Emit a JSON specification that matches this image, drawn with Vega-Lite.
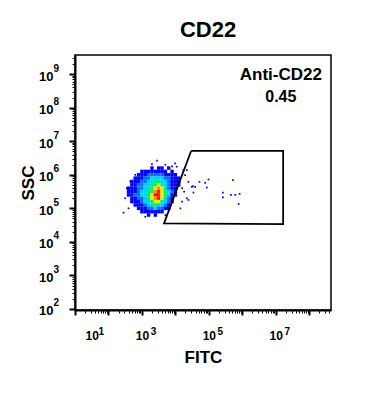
{
  "$schema": "https://vega.github.io/schema/vega-lite/v6.json",
  "autosize": {"type": "none"},
  "padding": {"left": 75, "top": 55, "right": 58, "bottom": 107},
  "width": 256,
  "height": 255,
  "title": {"text": "CD22", "font": "Liberation Sans", "fontSize": 22, "fontWeight": "bold", "color": "black", "anchor": "middle", "baseline": "alphabetic", "offset": -5, "dx": 5},
  "config": {
    "view": {"stroke": "black", "strokeWidth": 1.5},
    "font": "Liberation Sans",
    "axis": {"labelFont": "Liberation Sans", "titleFont": "Liberation Sans", "labelFontWeight": "bold", "titleFontWeight": "bold", "labelColor": "black", "titleColor": "black", "grid": false, "labelOverlap": false, "labelBound": false, "domainColor": "black", "tickColor": "black"}
  },
  "datasets": {
    "cells": [
      {"log_fitc": 3.3, "log_ssc": 6.2, "level": 1}, {"log_fitc": 3.5, "log_ssc": 6.2, "level": 1}, {"log_fitc": 3.6, "log_ssc": 6.2, "level": 1}, {"log_fitc": 3.8, "log_ssc": 6.2, "level": 1},
      {"log_fitc": 3.0, "log_ssc": 6.1, "level": 1}, {"log_fitc": 3.1, "log_ssc": 6.1, "level": 1}, {"log_fitc": 3.2, "log_ssc": 6.1, "level": 1}, {"log_fitc": 3.3, "log_ssc": 6.1, "level": 1}, {"log_fitc": 3.4, "log_ssc": 6.1, "level": 1}, {"log_fitc": 3.5, "log_ssc": 6.1, "level": 1}, {"log_fitc": 3.6, "log_ssc": 6.1, "level": 1}, {"log_fitc": 3.7, "log_ssc": 6.1, "level": 1}, {"log_fitc": 3.9, "log_ssc": 6.1, "level": 1},
      {"log_fitc": 2.9, "log_ssc": 6.0, "level": 1}, {"log_fitc": 3.0, "log_ssc": 6.0, "level": 1}, {"log_fitc": 3.1, "log_ssc": 6.0, "level": 1}, {"log_fitc": 3.2, "log_ssc": 6.0, "level": 2}, {"log_fitc": 3.3, "log_ssc": 6.0, "level": 2}, {"log_fitc": 3.4, "log_ssc": 6.0, "level": 2}, {"log_fitc": 3.5, "log_ssc": 6.0, "level": 2}, {"log_fitc": 3.6, "log_ssc": 6.0, "level": 2}, {"log_fitc": 3.7, "log_ssc": 6.0, "level": 1}, {"log_fitc": 3.8, "log_ssc": 6.0, "level": 1}, {"log_fitc": 3.9, "log_ssc": 6.0, "level": 1}, {"log_fitc": 4.0, "log_ssc": 6.0, "level": 1},
      {"log_fitc": 2.8, "log_ssc": 5.9, "level": 1}, {"log_fitc": 2.9, "log_ssc": 5.9, "level": 1}, {"log_fitc": 3.0, "log_ssc": 5.9, "level": 1}, {"log_fitc": 3.1, "log_ssc": 5.9, "level": 2}, {"log_fitc": 3.2, "log_ssc": 5.9, "level": 2}, {"log_fitc": 3.3, "log_ssc": 5.9, "level": 3}, {"log_fitc": 3.4, "log_ssc": 5.9, "level": 3}, {"log_fitc": 3.5, "log_ssc": 5.9, "level": 3}, {"log_fitc": 3.6, "log_ssc": 5.9, "level": 3}, {"log_fitc": 3.7, "log_ssc": 5.9, "level": 2}, {"log_fitc": 3.8, "log_ssc": 5.9, "level": 2}, {"log_fitc": 3.9, "log_ssc": 5.9, "level": 1}, {"log_fitc": 4.0, "log_ssc": 5.9, "level": 1}, {"log_fitc": 4.1, "log_ssc": 5.9, "level": 1},
      {"log_fitc": 2.7, "log_ssc": 5.8, "level": 1}, {"log_fitc": 2.8, "log_ssc": 5.8, "level": 1}, {"log_fitc": 2.9, "log_ssc": 5.8, "level": 1}, {"log_fitc": 3.0, "log_ssc": 5.8, "level": 2}, {"log_fitc": 3.1, "log_ssc": 5.8, "level": 2}, {"log_fitc": 3.2, "log_ssc": 5.8, "level": 3}, {"log_fitc": 3.3, "log_ssc": 5.8, "level": 3}, {"log_fitc": 3.4, "log_ssc": 5.8, "level": 4}, {"log_fitc": 3.5, "log_ssc": 5.8, "level": 4}, {"log_fitc": 3.6, "log_ssc": 5.8, "level": 3}, {"log_fitc": 3.7, "log_ssc": 5.8, "level": 3}, {"log_fitc": 3.8, "log_ssc": 5.8, "level": 2}, {"log_fitc": 3.9, "log_ssc": 5.8, "level": 1}, {"log_fitc": 4.0, "log_ssc": 5.8, "level": 1}, {"log_fitc": 4.1, "log_ssc": 5.8, "level": 1},
      {"log_fitc": 2.7, "log_ssc": 5.7, "level": 1}, {"log_fitc": 2.8, "log_ssc": 5.7, "level": 1}, {"log_fitc": 2.9, "log_ssc": 5.7, "level": 2}, {"log_fitc": 3.0, "log_ssc": 5.7, "level": 2}, {"log_fitc": 3.1, "log_ssc": 5.7, "level": 3}, {"log_fitc": 3.2, "log_ssc": 5.7, "level": 3}, {"log_fitc": 3.3, "log_ssc": 5.7, "level": 4}, {"log_fitc": 3.4, "log_ssc": 5.7, "level": 4}, {"log_fitc": 3.5, "log_ssc": 5.7, "level": 5}, {"log_fitc": 3.6, "log_ssc": 5.7, "level": 4}, {"log_fitc": 3.7, "log_ssc": 5.7, "level": 3}, {"log_fitc": 3.8, "log_ssc": 5.7, "level": 2}, {"log_fitc": 3.9, "log_ssc": 5.7, "level": 1}, {"log_fitc": 4.0, "log_ssc": 5.7, "level": 1}, {"log_fitc": 4.1, "log_ssc": 5.7, "level": 1},
      {"log_fitc": 2.6, "log_ssc": 5.6, "level": 1}, {"log_fitc": 2.7, "log_ssc": 5.6, "level": 1}, {"log_fitc": 2.8, "log_ssc": 5.6, "level": 1}, {"log_fitc": 2.9, "log_ssc": 5.6, "level": 2}, {"log_fitc": 3.0, "log_ssc": 5.6, "level": 2}, {"log_fitc": 3.1, "log_ssc": 5.6, "level": 3}, {"log_fitc": 3.2, "log_ssc": 5.6, "level": 3}, {"log_fitc": 3.3, "log_ssc": 5.6, "level": 4}, {"log_fitc": 3.4, "log_ssc": 5.6, "level": 5}, {"log_fitc": 3.5, "log_ssc": 5.6, "level": 6}, {"log_fitc": 3.6, "log_ssc": 5.6, "level": 5}, {"log_fitc": 3.7, "log_ssc": 5.6, "level": 3}, {"log_fitc": 3.8, "log_ssc": 5.6, "level": 2}, {"log_fitc": 3.9, "log_ssc": 5.6, "level": 1}, {"log_fitc": 4.0, "log_ssc": 5.6, "level": 1},
      {"log_fitc": 2.6, "log_ssc": 5.5, "level": 1}, {"log_fitc": 2.7, "log_ssc": 5.5, "level": 1}, {"log_fitc": 2.8, "log_ssc": 5.5, "level": 1}, {"log_fitc": 2.9, "log_ssc": 5.5, "level": 2}, {"log_fitc": 3.0, "log_ssc": 5.5, "level": 3}, {"log_fitc": 3.1, "log_ssc": 5.5, "level": 3}, {"log_fitc": 3.2, "log_ssc": 5.5, "level": 4}, {"log_fitc": 3.3, "log_ssc": 5.5, "level": 4}, {"log_fitc": 3.4, "log_ssc": 5.5, "level": 6}, {"log_fitc": 3.5, "log_ssc": 5.5, "level": 7}, {"log_fitc": 3.6, "log_ssc": 5.5, "level": 5}, {"log_fitc": 3.7, "log_ssc": 5.5, "level": 4}, {"log_fitc": 3.8, "log_ssc": 5.5, "level": 3}, {"log_fitc": 3.9, "log_ssc": 5.5, "level": 2}, {"log_fitc": 4.0, "log_ssc": 5.5, "level": 1},
      {"log_fitc": 2.6, "log_ssc": 5.4, "level": 1}, {"log_fitc": 2.7, "log_ssc": 5.4, "level": 1}, {"log_fitc": 2.8, "log_ssc": 5.4, "level": 2}, {"log_fitc": 2.9, "log_ssc": 5.4, "level": 2}, {"log_fitc": 3.0, "log_ssc": 5.4, "level": 3}, {"log_fitc": 3.1, "log_ssc": 5.4, "level": 3}, {"log_fitc": 3.2, "log_ssc": 5.4, "level": 4}, {"log_fitc": 3.3, "log_ssc": 5.4, "level": 5}, {"log_fitc": 3.4, "log_ssc": 5.4, "level": 7}, {"log_fitc": 3.5, "log_ssc": 5.4, "level": 7}, {"log_fitc": 3.6, "log_ssc": 5.4, "level": 5}, {"log_fitc": 3.7, "log_ssc": 5.4, "level": 4}, {"log_fitc": 3.8, "log_ssc": 5.4, "level": 3}, {"log_fitc": 3.9, "log_ssc": 5.4, "level": 1}, {"log_fitc": 4.0, "log_ssc": 5.4, "level": 1},
      {"log_fitc": 2.7, "log_ssc": 5.3, "level": 1}, {"log_fitc": 2.8, "log_ssc": 5.3, "level": 1}, {"log_fitc": 2.9, "log_ssc": 5.3, "level": 2}, {"log_fitc": 3.0, "log_ssc": 5.3, "level": 2}, {"log_fitc": 3.1, "log_ssc": 5.3, "level": 3}, {"log_fitc": 3.2, "log_ssc": 5.3, "level": 4}, {"log_fitc": 3.3, "log_ssc": 5.3, "level": 5}, {"log_fitc": 3.4, "log_ssc": 5.3, "level": 6}, {"log_fitc": 3.5, "log_ssc": 5.3, "level": 7}, {"log_fitc": 3.6, "log_ssc": 5.3, "level": 5}, {"log_fitc": 3.7, "log_ssc": 5.3, "level": 3}, {"log_fitc": 3.8, "log_ssc": 5.3, "level": 2}, {"log_fitc": 3.9, "log_ssc": 5.3, "level": 1},
      {"log_fitc": 2.7, "log_ssc": 5.2, "level": 1}, {"log_fitc": 2.8, "log_ssc": 5.2, "level": 1}, {"log_fitc": 2.9, "log_ssc": 5.2, "level": 1}, {"log_fitc": 3.0, "log_ssc": 5.2, "level": 2}, {"log_fitc": 3.1, "log_ssc": 5.2, "level": 3}, {"log_fitc": 3.2, "log_ssc": 5.2, "level": 3}, {"log_fitc": 3.3, "log_ssc": 5.2, "level": 4}, {"log_fitc": 3.4, "log_ssc": 5.2, "level": 5}, {"log_fitc": 3.5, "log_ssc": 5.2, "level": 5}, {"log_fitc": 3.6, "log_ssc": 5.2, "level": 4}, {"log_fitc": 3.7, "log_ssc": 5.2, "level": 3}, {"log_fitc": 3.8, "log_ssc": 5.2, "level": 2}, {"log_fitc": 3.9, "log_ssc": 5.2, "level": 1},
      {"log_fitc": 2.8, "log_ssc": 5.1, "level": 1}, {"log_fitc": 2.9, "log_ssc": 5.1, "level": 1}, {"log_fitc": 3.0, "log_ssc": 5.1, "level": 1}, {"log_fitc": 3.1, "log_ssc": 5.1, "level": 2}, {"log_fitc": 3.2, "log_ssc": 5.1, "level": 3}, {"log_fitc": 3.3, "log_ssc": 5.1, "level": 3}, {"log_fitc": 3.4, "log_ssc": 5.1, "level": 4}, {"log_fitc": 3.5, "log_ssc": 5.1, "level": 3}, {"log_fitc": 3.6, "log_ssc": 5.1, "level": 3}, {"log_fitc": 3.7, "log_ssc": 5.1, "level": 2}, {"log_fitc": 3.8, "log_ssc": 5.1, "level": 1},
      {"log_fitc": 2.9, "log_ssc": 5.0, "level": 1}, {"log_fitc": 3.0, "log_ssc": 5.0, "level": 1}, {"log_fitc": 3.1, "log_ssc": 5.0, "level": 1}, {"log_fitc": 3.2, "log_ssc": 5.0, "level": 2}, {"log_fitc": 3.3, "log_ssc": 5.0, "level": 2}, {"log_fitc": 3.4, "log_ssc": 5.0, "level": 3}, {"log_fitc": 3.5, "log_ssc": 5.0, "level": 2}, {"log_fitc": 3.6, "log_ssc": 5.0, "level": 2}, {"log_fitc": 3.7, "log_ssc": 5.0, "level": 1}, {"log_fitc": 3.8, "log_ssc": 5.0, "level": 1},
      {"log_fitc": 3.0, "log_ssc": 4.9, "level": 1}, {"log_fitc": 3.1, "log_ssc": 4.9, "level": 1}, {"log_fitc": 3.2, "log_ssc": 4.9, "level": 1}, {"log_fitc": 3.3, "log_ssc": 4.9, "level": 1}, {"log_fitc": 3.4, "log_ssc": 4.9, "level": 1}, {"log_fitc": 3.5, "log_ssc": 4.9, "level": 1}, {"log_fitc": 3.6, "log_ssc": 4.9, "level": 1},
      {"log_fitc": 3.2, "log_ssc": 4.8, "level": 1}, {"log_fitc": 3.4, "log_ssc": 4.8, "level": 1}
    ],
    "events": [
      {"log_fitc": 2.45, "log_ssc": 4.87}, {"log_fitc": 3.30, "log_ssc": 6.32}, {"log_fitc": 3.45, "log_ssc": 6.42}, {"log_fitc": 4.34, "log_ssc": 6.14},
      {"log_fitc": 4.39, "log_ssc": 5.79}, {"log_fitc": 4.49, "log_ssc": 5.64}, {"log_fitc": 4.59, "log_ssc": 5.64}, {"log_fitc": 4.72, "log_ssc": 5.79},
      {"log_fitc": 4.89, "log_ssc": 5.76}, {"log_fitc": 4.99, "log_ssc": 5.86}, {"log_fitc": 4.94, "log_ssc": 5.62}, {"log_fitc": 4.54, "log_ssc": 5.47},
      {"log_fitc": 4.39, "log_ssc": 5.25}, {"log_fitc": 5.72, "log_ssc": 5.84}, {"log_fitc": 5.42, "log_ssc": 5.47}, {"log_fitc": 5.42, "log_ssc": 5.33},
      {"log_fitc": 5.66, "log_ssc": 5.40}, {"log_fitc": 5.79, "log_ssc": 5.40}, {"log_fitc": 5.92, "log_ssc": 5.43}, {"log_fitc": 5.89, "log_ssc": 5.13},
      {"log_fitc": 4.24, "log_ssc": 6.14}, {"log_fitc": 4.29, "log_ssc": 5.99}, {"log_fitc": 4.26, "log_ssc": 5.50}, {"log_fitc": 4.34, "log_ssc": 5.30},
      {"log_fitc": 4.52, "log_ssc": 5.66}, {"log_fitc": 3.99, "log_ssc": 6.34}, {"log_fitc": 4.04, "log_ssc": 6.24}, {"log_fitc": 2.50, "log_ssc": 5.30},
      {"log_fitc": 2.55, "log_ssc": 5.60}, {"log_fitc": 2.60, "log_ssc": 5.00}, {"log_fitc": 3.10, "log_ssc": 4.75}, {"log_fitc": 3.70, "log_ssc": 4.80},
      {"log_fitc": 4.15, "log_ssc": 5.00}, {"log_fitc": 4.20, "log_ssc": 5.20}, {"log_fitc": 4.20, "log_ssc": 5.60}, {"log_fitc": 3.70, "log_ssc": 6.30},
      {"log_fitc": 3.90, "log_ssc": 6.25}, {"log_fitc": 2.80, "log_ssc": 6.00}, {"log_fitc": 2.65, "log_ssc": 5.80}
    ],
    "gate": [
      {"vertex": 1, "log_fitc": 4.47, "log_ssc": 6.71},
      {"vertex": 2, "log_fitc": 7.22, "log_ssc": 6.71},
      {"vertex": 3, "log_fitc": 7.22, "log_ssc": 4.53},
      {"vertex": 4, "log_fitc": 3.66, "log_ssc": 4.55},
      {"vertex": 5, "log_fitc": 4.47, "log_ssc": 6.71}
    ],
    "labels": [
      {"log_fitc": 7.15, "log_ssc": 8.96, "text": "Anti-CD22", "size": 17},
      {"log_fitc": 7.15, "log_ssc": 8.33, "text": "0.45", "size": 16}
    ]
  },
  "layer": [
    {
      "data": {"name": "cells"},
      "mark": {"type": "point", "shape": "square", "filled": true, "size": 12, "opacity": 1, "strokeWidth": 0},
      "encoding": {
        "x": {"field": "log_fitc", "type": "quantitative", "scale": {"domain": [1, 8.65], "zero": false, "nice": false},
          "axis": {"orient": "bottom", "title": "FITC", "titleFontSize": 17, "titlePadding": 8, "labelFontSize": 12, "labelPadding": 15, "domainWidth": 2,
            "values": [1,1.301,1.4771,1.6021,1.699,1.7782,1.8451,1.9031,1.9542,2,2.301,2.4771,2.6021,2.699,2.7782,2.8451,2.9031,2.9542,3,3.301,3.4771,3.6021,3.699,3.7782,3.8451,3.9031,3.9542,4,4.301,4.4771,4.6021,4.699,4.7782,4.8451,4.9031,4.9542,5,5.301,5.4771,5.6021,5.699,5.7782,5.8451,5.9031,5.9542,6,6.301,6.4771,6.6021,6.699,6.7782,6.8451,6.9031,6.9542,7,7.301,7.4771,7.6021,7.699,7.7782,7.8451,7.9031,7.9542,8,8.301,8.4771,8.6021],
            "labelExpr": "(datum.value == 1 || datum.value == 3 || datum.value == 5 || datum.value == 7) ? '10' : ''",
            "labelOffset": {"condition": {"test": "datum.value == 1", "value": 10}, "value": 0},
            "tickSize": {"condition": {"test": "round(datum.value) == datum.value", "value": 5}, "value": 3},
            "tickWidth": {"condition": {"test": "round(datum.value) == datum.value", "value": 2}, "value": 1}}},
        "y": {"field": "log_ssc", "type": "quantitative", "scale": {"domain": [1.97, 9.57], "zero": false, "nice": false},
          "axis": {"orient": "left", "title": "SSC", "titleFontSize": 17, "titlePadding": 1, "labelFontSize": 13, "labelPadding": 16, "labelOffset": 2, "domainWidth": 2,
            "values": [2,2.301,2.4771,2.6021,2.699,2.7782,2.8451,2.9031,2.9542,3,3.301,3.4771,3.6021,3.699,3.7782,3.8451,3.9031,3.9542,4,4.301,4.4771,4.6021,4.699,4.7782,4.8451,4.9031,4.9542,5,5.301,5.4771,5.6021,5.699,5.7782,5.8451,5.9031,5.9542,6,6.301,6.4771,6.6021,6.699,6.7782,6.8451,6.9031,6.9542,7,7.301,7.4771,7.6021,7.699,7.7782,7.8451,7.9031,7.9542,8,8.301,8.4771,8.6021,8.699,8.7782,8.8451,8.9031,8.9542,9,9.301,9.4771],
            "labelExpr": "round(datum.value) == datum.value ? '10' : ''",
            "tickSize": {"condition": {"test": "round(datum.value) == datum.value", "value": 6}, "value": 3},
            "tickWidth": {"condition": {"test": "round(datum.value) == datum.value", "value": 2}, "value": 1}}},
        "color": {"field": "level", "type": "ordinal", "scale": {"domain": [1, 2, 3, 4, 5, 6, 7], "range": ["#0000ff", "#0070ff", "#00d0ff", "#00f060", "#e8f000", "#ff9000", "#ff1000"]}, "legend": null}
      }
    },
    {
      "data": {"name": "events"},
      "mark": {"type": "point", "shape": "square", "filled": true, "size": 3, "opacity": 1, "color": "#0000ff", "strokeWidth": 0},
      "encoding": {
        "x": {"field": "log_fitc", "type": "quantitative", "scale": {"domain": [1, 8.65], "zero": false, "nice": false}, "axis": null},
        "y": {"field": "log_ssc", "type": "quantitative", "scale": {"domain": [1.97, 9.57], "zero": false, "nice": false}, "axis": null}
      }
    },
    {
      "data": {"name": "gate"},
      "mark": {"type": "line", "color": "black", "strokeWidth": 1.8},
      "encoding": {
        "order": {"field": "vertex", "type": "quantitative"},
        "x": {"field": "log_fitc", "type": "quantitative", "scale": {"domain": [1, 8.65], "zero": false, "nice": false},
          "axis": {"orient": "bottom", "title": null, "ticks": false, "domain": false, "values": [1, 3, 5, 7], "labelExpr": "'' + datum.value", "labelFontSize": 10, "labelPadding": 16,
            "labelOffset": {"condition": {"test": "datum.value == 1", "value": 23}, "value": 11}}},
        "y": {"field": "log_ssc", "type": "quantitative", "scale": {"domain": [1.97, 9.57], "zero": false, "nice": false},
          "axis": {"orient": "left", "title": null, "ticks": false, "domain": false, "values": [2, 3, 4, 5, 6, 7, 8, 9], "labelExpr": "'' + datum.value", "labelFontSize": 10, "labelPadding": 22, "labelAlign": "left", "labelOffset": -6}}
      }
    },
    {
      "data": {"name": "labels"},
      "mark": {"type": "text", "font": "Liberation Sans", "fontWeight": "bold", "color": "black", "align": "center", "baseline": "middle"},
      "encoding": {
        "x": {"field": "log_fitc", "type": "quantitative", "scale": {"domain": [1, 8.65], "zero": false, "nice": false}, "axis": null},
        "y": {"field": "log_ssc", "type": "quantitative", "scale": {"domain": [1.97, 9.57], "zero": false, "nice": false}, "axis": null},
        "text": {"field": "text"},
        "size": {"field": "size", "type": "quantitative", "scale": null}
      }
    }
  ],
  "resolve": {"axis": {"x": "independent", "y": "independent"}}
}
